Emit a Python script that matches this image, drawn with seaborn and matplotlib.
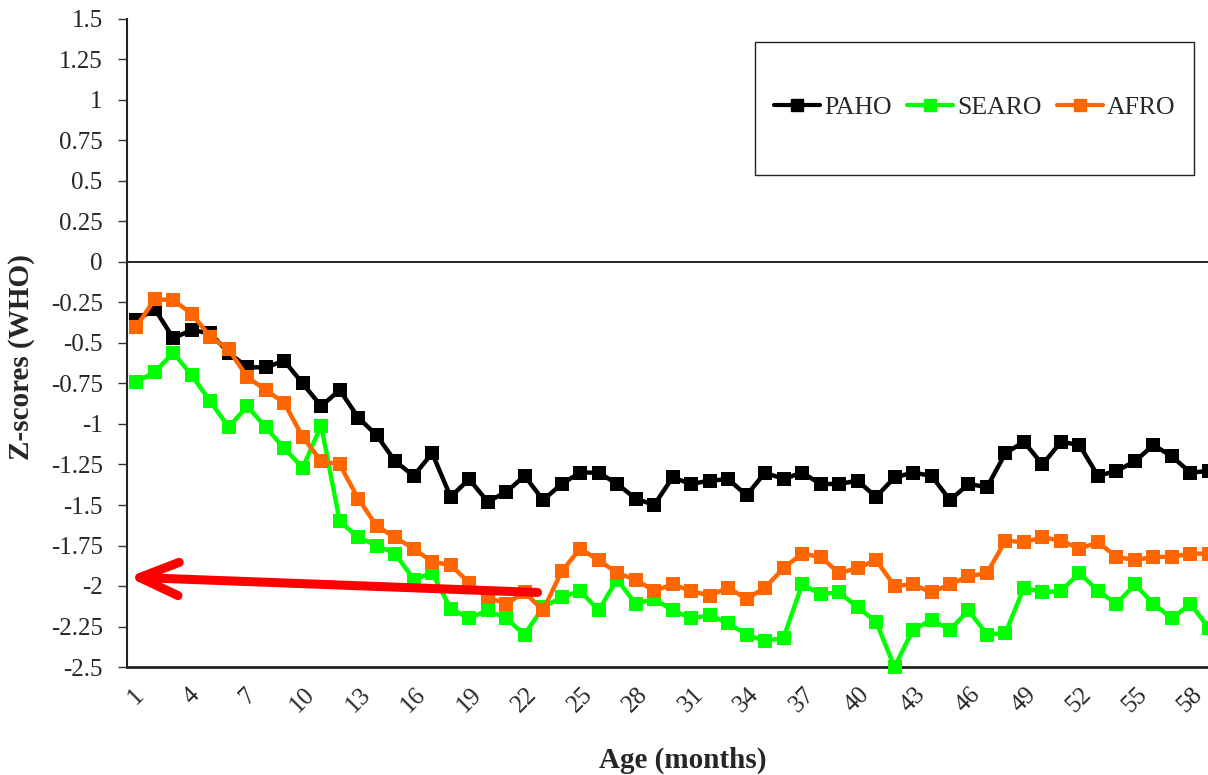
import numpy as np
import pandas as pd
import seaborn as sns
import matplotlib.pyplot as plt
from matplotlib.patches import Rectangle

# ages in months
months = list(range(1, 60))

paho = [-0.36, -0.29, -0.47, -0.42, -0.44, -0.56, -0.65, -0.65, -0.61, -0.75,
        -0.89, -0.79, -0.96, -1.07, -1.23, -1.32, -1.18, -1.45, -1.34, -1.48,
        -1.42, -1.32, -1.47, -1.37, -1.30, -1.30, -1.37, -1.46, -1.50, -1.33,
        -1.37, -1.35, -1.34, -1.44, -1.30, -1.34, -1.30, -1.37, -1.37, -1.35,
        -1.45, -1.33, -1.30, -1.32, -1.47, -1.37, -1.39, -1.18, -1.11, -1.25,
        -1.11, -1.13, -1.32, -1.29, -1.23, -1.13, -1.20, -1.30, -1.29]
searo = [-0.74, -0.68, -0.56, -0.70, -0.86, -1.02, -0.89, -1.02, -1.15, -1.27,
         -1.01, -1.60, -1.70, -1.75, -1.80, -1.96, -1.92, -2.14, -2.20, -2.15,
         -2.20, -2.30, -2.13, -2.07, -2.03, -2.15, -1.96, -2.11, -2.08, -2.15,
         -2.20, -2.18, -2.23, -2.30, -2.34, -2.32, -1.99, -2.05, -2.04, -2.13,
         -2.22, -2.50, -2.27, -2.21, -2.27, -2.15, -2.30, -2.29, -2.01, -2.04,
         -2.03, -1.92, -2.03, -2.11, -1.99, -2.11, -2.20, -2.11, -2.26]
afro = [-0.40, -0.23, -0.235, -0.32, -0.46, -0.54, -0.71, -0.79, -0.87, -1.08,
        -1.23, -1.25, -1.46, -1.63, -1.70, -1.77, -1.85, -1.87, -1.98, -2.07,
        -2.11, -2.04, -2.15, -1.91, -1.77, -1.84, -1.92, -1.96, -2.03, -1.99,
        -2.03, -2.06, -2.01, -2.08, -2.01, -1.89, -1.80, -1.82, -1.92, -1.89,
        -1.84, -2.00, -1.99, -2.04, -1.99, -1.94, -1.92, -1.72, -1.73, -1.70,
        -1.72, -1.77, -1.73, -1.82, -1.84, -1.82, -1.82, -1.80, -1.80]

regions = ['PAHO', 'SEARO', 'AFRO']
colors = {'PAHO': '#000000', 'SEARO': '#00FF00', 'AFRO': '#FF6600'}

x_ticks = list(range(1, 59, 3))
y_ticks = [1.5, 1.25, 1, 0.75, 0.5, 0.25, 0, -0.25, -0.5, -0.75,
           -1, -1.25, -1.5, -1.75, -2, -2.25, -2.5]

# red arrow (tail -> tip), in data units
arrow_tail = (22.7, -2.04)
arrow_tip = (0.57, -1.945)

df = pd.DataFrame({'month': months * 3,
                   'z': paho + searo + afro,
                   'region': np.repeat(regions, len(months))})

sns.set_style('white')
plt.rcParams['font.family'] = ['Liberation Serif', 'DejaVu Serif']

fig = plt.figure(figsize=(12.08, 7.75), dpi=100)
ax = fig.add_axes([127 / 1208, 1 - 667 / 775, 1081 / 1208, 648 / 775])

sns.lineplot(data=df, x='month', y='z', hue='region', hue_order=regions,
             palette=colors, marker='s', markersize=9.5, markeredgewidth=0,
             linewidth=3.2, ax=ax, legend=False, clip_on=False, zorder=3)

ax.set_xlim(0.5, 58.95)
ax.set_ylim(-2.5, 1.5)
ax.axhline(0, color='black', lw=1.2, zorder=1)

ax.set_yticks(y_ticks)
ax.set_yticklabels([f'{v:g}' for v in y_ticks], fontsize=18)
ax.set_xticks(x_ticks)
ax.set_xticklabels([str(m) for m in x_ticks], fontsize=18, rotation=45, ha='center')
ax.tick_params(axis='y', direction='out', length=6.5, width=1, pad=11, left=True, color='#333333')
ax.tick_params(axis='x', length=0, pad=12)

for side in ['top', 'right']:
    ax.spines[side].set_visible(False)
ax.spines['left'].set_color('#222222')
ax.spines['left'].set_linewidth(1.5)
ax.spines['bottom'].set_color('#222222')
ax.spines['bottom'].set_linewidth(2)

ax.set_xlabel('Age (months)', fontsize=21, fontweight='bold')
ax.set_ylabel('Z-scores (WHO)', fontsize=21, fontweight='bold')
ax.xaxis.set_label_coords(0.514, -0.123)
ax.yaxis.set_label_coords(-0.085, 0.478)

# legend box
ax.add_patch(Rectangle((0.581, 0.759), 0.406, 0.2055, transform=ax.transAxes,
                       fill=False, edgecolor='#222222', lw=1, zorder=4))
handles = [plt.Line2D([], [], color=colors[r], lw=3, marker='s', markersize=8) for r in regions]
ax.legend(handles, regions, loc='center', bbox_to_anchor=(0.784, 0.863), ncol=3,
          frameon=False, fontsize=18.5, handlelength=1.8, handletextpad=0.15,
          columnspacing=0.6)

ax.annotate('', xy=arrow_tip, xytext=arrow_tail,
            arrowprops=dict(arrowstyle='->, head_length=1.4, head_width=0.6',
                            color='#FF0000', lw=6.5, mutation_scale=20,
                            shrinkA=0, shrinkB=0, capstyle='round', joinstyle='round'),
            zorder=5)

fig.savefig('out.png', dpi=100)
